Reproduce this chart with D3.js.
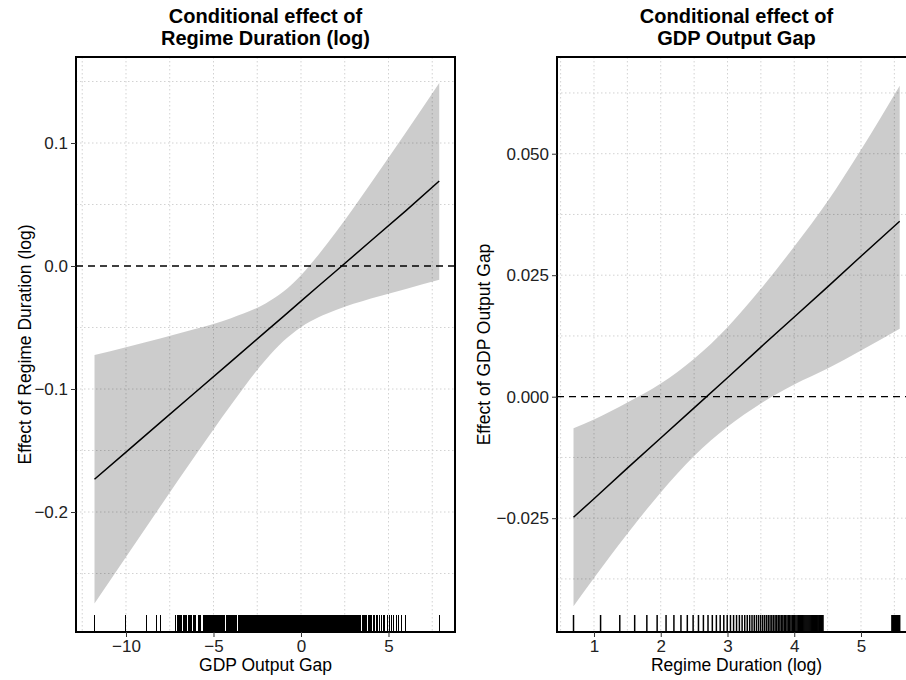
<!DOCTYPE html>
<html>
<head>
<meta charset="utf-8">
<script src="https://cdn.jsdelivr.net/npm/d3@7"></script>
<style>
  body { margin: 0; background: #fff; }
  svg { display: block; font-family: "Liberation Sans", Arial, sans-serif; }
</style>
</head>
<body>
<div id="chart"></div>
<script>
// left panel: effect of regime duration, conditional on output gap
const gapX     = [-11.8, -10, -8, -6, -4, -2, -1, 0, 1, 2, 4, 6, 7.9];
const gapFit   = [-0.1734, -0.1513, -0.1267, -0.1022, -0.0777, -0.0531, -0.0409, -0.0286, -0.0163, -0.0041, 0.0205, 0.0450, 0.0691];
const gapLower = [-0.2744, -0.2365, -0.1947, -0.1533, -0.1130, -0.0760, -0.0610, -0.0497, -0.0417, -0.0358, -0.0265, -0.0187, -0.0112];
const gapUpper = [-0.0724, -0.0661, -0.0587, -0.0511, -0.0424, -0.0302, -0.0208, -0.0075, 0.0091, 0.0276, 0.0675, 0.1087, 0.1488];
const gapRug = [
  -11.8, -10.0, -8.8, -8.25, -8.0,
  -7.15, -7.08, -7.01, -6.94, -6.87, -6.8, -6.73, -6.66, -6.59, -6.52, -6.45, -6.38, -6.31, -6.24,
  -6.17, -6.1, -6.03,
  -5.87, -5.8, -5.74,
  -5.58, -5.53, -5.48, -5.43, -5.38, -5.33, -5.28, -5.23, -5.18, -5.13, -5.08,
  -4.98, -4.93, -4.88, -4.83, -4.78, -4.73, -4.68, -4.63, -4.58, -4.53, -4.48, -4.43, -4.38,
  -4.28, -4.23, -4.18, -4.13, -4.08, -4.03, -3.98, -3.93, -3.88, -3.83, -3.78, -3.73, -3.68,
  -3.58, -3.53, -3.48, -3.43, -3.38, -3.33, -3.28, -3.23, -3.18, -3.13, -3.08, -3.03, -2.98,
  -2.93, -2.88, -2.84,
  -2.8, -2.75, -2.7, -2.65, -2.6, -2.55, -2.5, -2.45, -2.4, -2.35, -2.3, -2.25, -2.2, -2.15, -2.1,
  -2.05, -2, -1.95, -1.9, -1.85, -1.8, -1.75, -1.7, -1.65, -1.6, -1.55, -1.5, -1.45, -1.4, -1.35,
  -1.3, -1.25, -1.2, -1.15, -1.1, -1.05, -1, -0.95, -0.9, -0.85, -0.8, -0.75, -0.7, -0.65, -0.6,
  -0.55, -0.5, -0.45, -0.4, -0.35, -0.3, -0.25, -0.2, -0.15, -0.1, -0.05, 0, 0.05, 0.1, 0.15,
  0.2, 0.25, 0.3, 0.35, 0.4, 0.45, 0.5, 0.55, 0.6, 0.65, 0.7, 0.75, 0.8, 0.85, 0.9, 0.95, 1,
  1.05, 1.1, 1.15, 1.2, 1.25, 1.3, 1.35, 1.4, 1.45, 1.5, 1.55, 1.6, 1.65, 1.7, 1.75, 1.8, 1.85,
  1.9, 1.95, 2, 2.05, 2.1, 2.15, 2.2, 2.25, 2.3, 2.35, 2.4, 2.45, 2.5, 2.55, 2.6,
  2.65, 2.7, 2.75, 2.8, 2.85, 2.9, 2.95, 3.0, 3.05, 3.1, 3.15, 3.2, 3.25, 3.3, 3.36, 3.42,
  3.5, 3.56, 3.62, 3.7, 3.76, 3.84, 3.9, 3.98, 4.05, 4.12, 4.2, 4.3, 4.38, 4.5, 4.6, 4.7,
  4.8, 4.95, 5.05, 5.2, 5.3, 5.45, 5.6, 5.75, 5.95, 7.9
];

// right panel: effect of output gap, conditional on regime duration (log)
const durX     = [0.693, 1.0, 1.5, 2.0, 2.5, 3.0, 3.5, 4.0, 4.5, 5.0, 5.58];
const durFit   = [-0.0248, -0.0210, -0.0147, -0.0085, -0.0023, 0.0039, 0.0102, 0.0164, 0.0226, 0.0289, 0.0361];
const durLower = [-0.0431, -0.0373, -0.0282, -0.0197, -0.0122, -0.0062, -0.0014, 0.0025, 0.0058, 0.0095, 0.0140];
const durUpper = [-0.0065, -0.0047, -0.0012, 0.0027, 0.0078, 0.0143, 0.0222, 0.0309, 0.0402, 0.0508, 0.0640];
// regime durations in years (rug drawn on log scale)
const durRugYears = [
  2, 3, 4, 5, 6, 7, 8, 9, 10, 11, 12, 13, 14, 15, 16, 17, 18, 19, 20, 21, 22, 23, 24, 25, 26, 27,
  28, 29, 30, 31, 32, 33, 34, 35, 36, 37, 38, 39, 40, 41, 42, 43, 44, 45, 46, 47, 48, 49, 50, 51,
  52, 53, 54, 55, 56, 57, 58, 59, 60, 61, 62, 63, 64, 65, 66, 67, 68, 69, 70, 71, 72, 73, 74, 75,
  76, 77, 78, 79, 80, 81, 82, 83, 84,
  236, 238, 240, 242, 244, 246, 248, 250, 252, 254, 256, 258, 260, 262, 265
];

const W = 906, H = 680;
const svg = d3.select("#chart").append("svg").attr("width", W).attr("height", H);

function drawPanel(cfg) {
  const { left, right, top, bottom } = cfg;
  const x = d3.scaleLinear().domain(cfg.xDomain).range([left, right]);
  const y = d3.scaleLinear().domain(cfg.yDomain).range([bottom, top]);
  const g = svg.append("g");

  // grid (major + minor, dotted)
  const grid = g.append("g").attr("stroke", "#d2d2d2").attr("stroke-width", 1).attr("stroke-dasharray", "1.5,2.5");
  cfg.xGrid.forEach(v => grid.append("line").attr("x1", x(v)).attr("x2", x(v)).attr("y1", top).attr("y2", bottom));
  cfg.yGrid.forEach(v => grid.append("line").attr("y1", y(v)).attr("y2", y(v)).attr("x1", left).attr("x2", right));

  // ribbon
  const pts = cfg.xs.map((v, i) => ({ x: v, lo: cfg.lower[i], hi: cfg.upper[i], fit: cfg.fit[i] }));
  g.append("path").datum(pts)
    .attr("d", d3.area().x(d => x(d.x)).y0(d => y(d.lo)).y1(d => y(d.hi)).curve(d3.curveMonotoneX))
    .attr("fill", "#000").attr("fill-opacity", 0.2);

  // zero line
  g.append("line").attr("x1", left).attr("x2", right).attr("y1", y(0)).attr("y2", y(0))
    .attr("stroke", "#000").attr("stroke-width", 1.3).attr("stroke-dasharray", "7,5");

  // fitted effect
  g.append("path").datum(pts)
    .attr("d", d3.line().x(d => x(d.x)).y(d => y(d.fit)))
    .attr("fill", "none").attr("stroke", "#000").attr("stroke-width", 1.5);

  // rug
  g.append("g").selectAll("line").data(cfg.rug).enter().append("line")
    .attr("x1", d => x(d)).attr("x2", d => x(d)).attr("y1", bottom - 17).attr("y2", bottom)
    .attr("stroke", "#000").attr("stroke-width", cfg.rugWidth)
    .attr("shape-rendering", cfg.rugCrisp ? "crispEdges" : null);

  // border
  g.append("rect").attr("x", left).attr("y", top).attr("width", right - left).attr("height", bottom - top)
    .attr("fill", "none").attr("stroke", "#000").attr("stroke-width", 2);

  // axes
  const xAxis = g.append("g").attr("transform", `translate(0,${bottom})`)
    .call(d3.axisBottom(x).tickValues(cfg.xTicks).tickFormat(d3.format("d")).tickSize(5).tickPadding(3));
  const yAxis = g.append("g").attr("transform", `translate(${left},0)`)
    .call(d3.axisLeft(y).tickValues(cfg.yTicks).tickFormat(d3.format(cfg.yFormat)).tickSize(5).tickPadding(3));
  [xAxis, yAxis].forEach(a => {
    a.select(".domain").remove();
    a.selectAll(".tick line").attr("stroke", "#333").attr("stroke-width", 1);
    a.selectAll(".tick text").attr("fill", "#222").attr("font-size", "17px")
      .attr("font-family", "'Liberation Sans', Arial, sans-serif");
  });

  const cx = (left + right) / 2, cy = (top + bottom) / 2;
  // titles
  const title = g.append("text").attr("text-anchor", "middle").attr("font-weight", "bold").attr("font-size", "20px");
  title.append("tspan").attr("x", cx).attr("y", 23).text(cfg.title[0]);
  title.append("tspan").attr("x", cx).attr("y", 45).text(cfg.title[1]);

  g.append("text").attr("x", cx).attr("y", 671).attr("text-anchor", "middle")
    .attr("font-size", "17.5px").text(cfg.xLabel);
  g.append("text").attr("transform", `translate(${cfg.yLabelX},${cy}) rotate(-90)`)
    .attr("text-anchor", "middle").attr("font-size", "17.5px").text(cfg.yLabel);
}

drawPanel({
  left: 76, right: 455, top: 57, bottom: 632,
  xDomain: [-12.857, 8.8], yDomain: [-0.29756, 0.16992],
  xs: gapX, fit: gapFit, lower: gapLower, upper: gapUpper, rug: gapRug, rugWidth: 1, rugCrisp: true,
  xTicks: [-10, -5, 0, 5], xGrid: [-12.5, -10, -7.5, -5, -2.5, 0, 2.5, 5, 7.5],
  yTicks: [-0.2, -0.1, 0, 0.1], yGrid: [-0.25, -0.2, -0.15, -0.1, -0.05, 0.05, 0.1, 0.15], yFormat: ".1f",
  title: ["Conditional effect of", "Regime Duration (log)"],
  xLabel: "GDP Output Gap", yLabel: "Effect of Regime Duration (log)", yLabelX: 31
});

drawPanel({
  left: 557, right: 916, top: 57, bottom: 632,
  xDomain: [0.4457, 5.824], yDomain: [-0.04842, 0.0699],
  xs: durX, fit: durFit, lower: durLower, upper: durUpper, rug: durRugYears.map(v => Math.log(v)),
  rugWidth: 1.5, rugCrisp: false,
  xTicks: [1, 2, 3, 4, 5], xGrid: [0.5, 1, 1.5, 2, 2.5, 3, 3.5, 4, 4.5, 5, 5.5],
  yTicks: [-0.025, 0, 0.025, 0.05], yGrid: [-0.0375, -0.025, -0.0125, 0.0125, 0.025, 0.0375, 0.05, 0.0625], yFormat: ".3f",
  title: ["Conditional effect of", "GDP Output Gap"],
  xLabel: "Regime Duration (log)", yLabel: "Effect of GDP Output Gap", yLabelX: 490
});
</script>
</body>
</html>
